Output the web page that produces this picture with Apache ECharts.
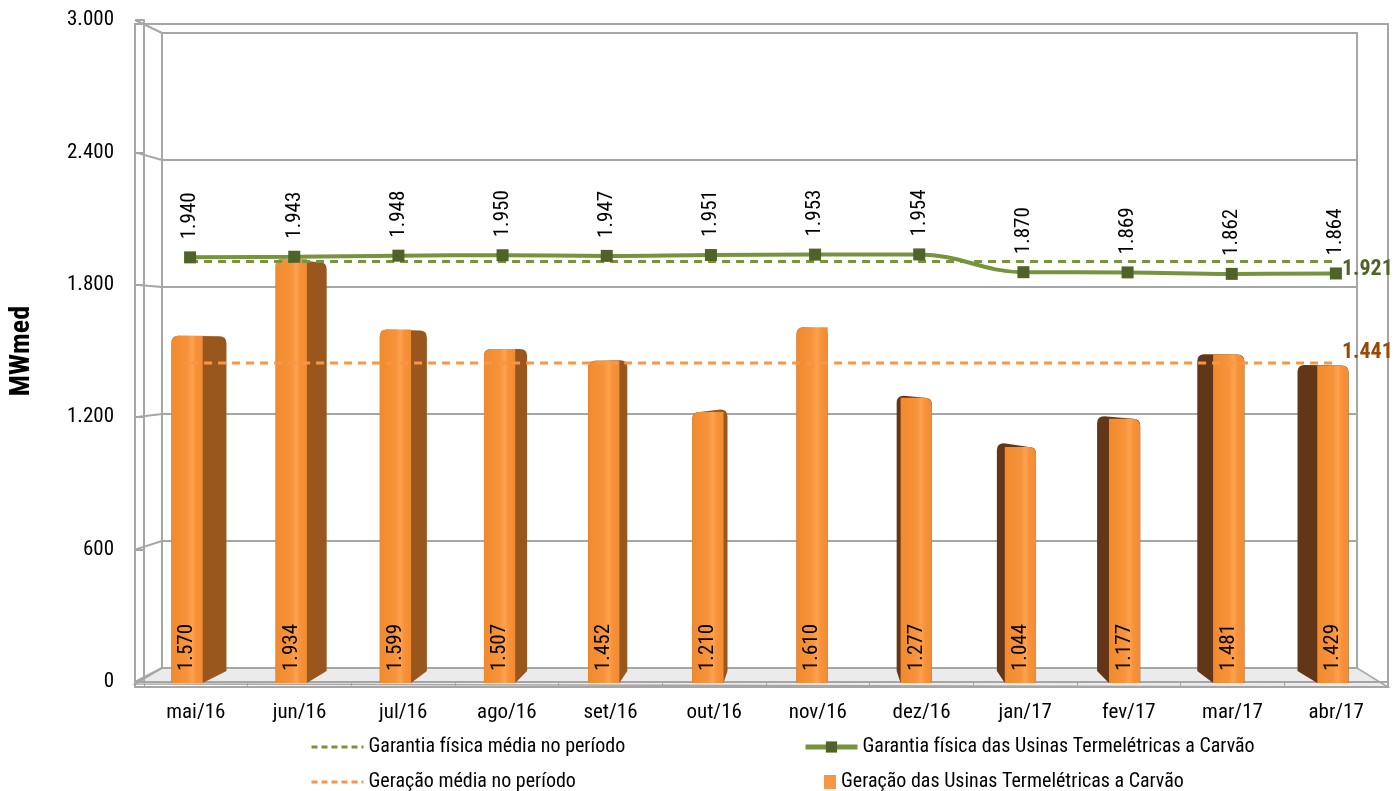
<!DOCTYPE html>
<html>
<head>
<meta charset="utf-8">
<script src="https://cdn.jsdelivr.net/npm/echarts@6/dist/echarts.min.js"></script>
<style>
  html, body { margin: 0; padding: 0; background: #ffffff; }
  #chart { width: 1400px; height: 791px; }
</style>
</head>
<body>
<div id="chart"></div>
<script>
// Categorias (meses) e valores em MWmed
const meses = ['mai/16', 'jun/16', 'jul/16', 'ago/16', 'set/16', 'out/16',
               'nov/16', 'dez/16', 'jan/17', 'fev/17', 'mar/17', 'abr/17'];
const garantiaFisica = [1940, 1943, 1948, 1950, 1947, 1951, 1953, 1954, 1870, 1869, 1862, 1864];
const geracao = [1570, 1934, 1599, 1507, 1452, 1210, 1610, 1277, 1044, 1177, 1481, 1429];
const garantiaMedia = 1921;
const geracaoMedia = 1441;
const eixoTicks = [0, 600, 1200, 1800, 2400, 3000];

const W = 1400, H = 791;
const FONT = "'Liberation Sans Narrow', 'Arial Narrow', 'Roboto Condensed', sans-serif";
const GRAY = '#A6A6A6';

// Layout da caixa 3D: face frontal, parede do fundo e moldura externa
const FRONT = { left: 135, right: 12, top: 20, bottom: 109 };
const BACK  = { left: 162, right: 43, top: 33, bottom: 123 };
const FRAME = { left: 135, right: 12, top: 24, bottom: 104 };
const LINES = { left: 138, right: 12, top: 33, bottom: 123 };
const BARS  = { left: 135, right: 15, top: 33, bottom: 123 };

// Projeção simples das barras: profundidade lateral e degrau do piso
const DEPTH_RATIO = 0.038;
const FLOOR_DROP = 15;
const BACK_RISE = 12;
const CAP_R = 7;

const yMin = eixoTicks[0];
const yMax = eixoTicks[eixoTicks.length - 1];
const yStep = eixoTicks[1] - eixoTicks[0];

function fmt(v) {
  return String(Math.round(v)).replace(/\B(?=(\d{3})+(?!\d))/g, '.');
}

function valueAxis(gridIndex, extra) {
  return Object.assign({
    type: 'value', gridIndex: gridIndex, min: yMin, max: yMax, interval: yStep,
    axisLine: { show: false }, axisTick: { show: false },
    axisLabel: { show: false }, splitLine: { show: false }
  }, extra || {});
}
function catAxis(gridIndex, extra) {
  return Object.assign({
    type: 'category', gridIndex: gridIndex, data: meses,
    axisLine: { show: false }, axisTick: { show: false },
    axisLabel: { show: false }, splitLine: { show: false }
  }, extra || {});
}

// Barra com face frontal, lateral em perspectiva e topo arredondado
function renderBar(params, api) {
  const i = api.value(0);
  const v = api.value(1);
  const topPt = api.coord([i, v]);
  const basePt = api.coord([i, 0]);
  const mid = api.coord([(meses.length - 1) / 2, 0])[0];
  const horizon = api.coord([i, yMax / 2])[1];
  const w = api.size([1, 0])[0] * 0.3;
  const xc = topPt[0];
  const xl = xc - w / 2, xr = xc + w / 2;
  const yt = topPt[1];
  const yb = basePt[1] + FLOOR_DROP;
  const side = (mid - xc) * DEPTH_RATIO;
  const ytBack = yt + (horizon - yt) * 0.04;
  const r = CAP_R;
  let path, frontR, sideColor;
  if (side >= 0) {
    const back = xr + side;
    path = 'M' + xl + ' ' + yb + ' L' + xl + ' ' + (yt + r) + ' Q' + xl + ' ' + yt + ' ' + (xl + r) + ' ' + yt +
           ' L' + (back - r) + ' ' + ytBack + ' Q' + back + ' ' + ytBack + ' ' + back + ' ' + (ytBack + r) +
           ' L' + back + ' ' + (yb - BACK_RISE) + ' L' + xr + ' ' + yb + ' Z';
    frontR = [r, 0, 0, 0];
    sideColor = '#9A571D';
  } else {
    const back = xl + side;
    path = 'M' + xr + ' ' + yb + ' L' + xr + ' ' + (yt + r) + ' Q' + xr + ' ' + yt + ' ' + (xr - r) + ' ' + yt +
           ' L' + (back + r) + ' ' + ytBack + ' Q' + back + ' ' + ytBack + ' ' + back + ' ' + (ytBack + r) +
           ' L' + back + ' ' + (yb - BACK_RISE) + ' L' + xl + ' ' + yb + ' Z';
    frontR = [0, r, 0, 0];
    sideColor = '#623617';
  }
  return {
    type: 'group',
    children: [
      { type: 'path', shape: { pathData: path }, style: { fill: sideColor } },
      {
        type: 'rect',
        shape: { x: xl, y: yt, width: w, height: yb - yt, r: frontR },
        style: {
          fill: new echarts.graphic.LinearGradient(0, 0, 1, 0, [
            { offset: 0, color: '#F08A2E' },
            { offset: 0.5, color: '#F7933A' },
            { offset: 0.66, color: '#FDA24F' },
            { offset: 0.78, color: '#F7923A' },
            { offset: 1, color: '#F28C33' }
          ])
        }
      },
      {
        type: 'text',
        x: xc, y: yb - 12, rotation: Math.PI / 2,
        style: {
          text: fmt(v), align: 'left', verticalAlign: 'middle',
          font: '21px ' + FONT, fill: '#000000'
        }
      }
    ]
  };
}

const chart = echarts.init(document.getElementById('chart'), null, { renderer: 'canvas' });

const legendText = { fontFamily: FONT, fontSize: 20, color: '#000000', lineHeight: 20 };

const option = {
  animation: false,
  backgroundColor: '#ffffff',
  grid: [
    Object.assign({ show: false }, FRONT),
    Object.assign({ show: true, borderColor: GRAY, borderWidth: 2, backgroundColor: 'transparent' }, BACK),
    Object.assign({ show: false }, LINES),
    Object.assign({ show: true, borderColor: GRAY, borderWidth: 2, backgroundColor: 'transparent' }, FRAME),
    Object.assign({ show: false }, BARS)
  ],
  xAxis: [
    catAxis(0, {
      axisLine: { show: true, lineStyle: { color: GRAY, width: 2 } },
      axisTick: { show: true, length: 5, lineStyle: { color: GRAY, width: 1 } },
      axisLabel: { show: true, margin: 20, fontFamily: FONT, fontSize: 21, color: '#000000' }
    }),
    catAxis(1),
    catAxis(2),
    catAxis(3),
    catAxis(4)
  ],
  yAxis: [
    valueAxis(0, {
      axisLine: { show: true, lineStyle: { color: GRAY, width: 2 } },
      axisTick: { show: true, length: 8, lineStyle: { color: GRAY, width: 2 } },
      axisLabel: { show: true, margin: 30, fontFamily: FONT, fontSize: 21, color: '#000000', formatter: fmt },
      name: 'MWmed', nameLocation: 'middle', nameGap: 108, nameRotate: 90,
      nameTextStyle: { fontFamily: FONT, fontSize: 28, fontWeight: 'bold', color: '#000000' }
    }),
    valueAxis(1, { splitLine: { show: true, lineStyle: { color: GRAY, width: 2 } } }),
    valueAxis(2),
    valueAxis(3),
    valueAxis(4)
  ],
  legend: [
    {
      data: ['Garantia física média no período'], left: 310, top: 737, padding: 0,
      itemWidth: 52, itemHeight: 14, selectedMode: false, textStyle: legendText,
      itemStyle: { opacity: 0 }, lineStyle: { width: 3, type: [6, 4] }
    },
    {
      data: ['Garantia física das Usinas Termelétricas a Carvão'], left: 803, top: 737, padding: 0,
      itemWidth: 52, itemHeight: 14, selectedMode: false, textStyle: legendText,
      lineStyle: { width: 5 }
    },
    {
      data: ['Geração média no período'], left: 310, top: 772, padding: 0,
      itemWidth: 52, itemHeight: 14, selectedMode: false, textStyle: legendText,
      itemStyle: { opacity: 0 }, lineStyle: { width: 3, type: [6, 4] }
    },
    {
      data: [{ name: 'Geração das Usinas Termelétricas a Carvão', icon: 'rect' }], left: 824, top: 772, padding: 0,
      itemWidth: 12, itemHeight: 14, selectedMode: false, textStyle: legendText
    }
  ],
  series: [
    {
      name: 'Geração das Usinas Termelétricas a Carvão',
      type: 'custom',
      xAxisIndex: 4, yAxisIndex: 4,
      renderItem: renderBar,
      itemStyle: { color: '#F79646' },
      data: geracao.map(function (v, i) { return [i, v]; }),
      z: 2
    },
    {
      name: 'Garantia física das Usinas Termelétricas a Carvão',
      type: 'line',
      xAxisIndex: 2, yAxisIndex: 2,
      data: garantiaFisica,
      smooth: 0.4,
      symbol: 'rect', symbolSize: 12,
      lineStyle: { color: '#77933C', width: 4 },
      itemStyle: { color: '#4F6228' },
      label: {
        show: true, position: 'top', rotate: 90, align: 'left', verticalAlign: 'middle',
        distance: 12, fontFamily: FONT, fontSize: 21, color: '#000000',
        formatter: function (p) { return fmt(p.value); }
      },
      z: 5
    },
    {
      name: 'Garantia física média no período',
      type: 'line',
      xAxisIndex: 2, yAxisIndex: 2,
      data: meses.map(function () { return garantiaMedia; }),
      symbol: 'none',
      lineStyle: { color: '#77933C', width: 3, type: [8, 6] },
      itemStyle: { color: '#77933C' },
      endLabel: {
        show: true, distance: 6, offset: [0, 8],
        fontFamily: FONT, fontSize: 22, fontWeight: 'bold', color: '#4F6228',
        formatter: function (p) { return fmt(p.value); }
      },
      z: 4
    },
    {
      name: 'Geração média no período',
      type: 'line',
      xAxisIndex: 2, yAxisIndex: 2,
      data: meses.map(function () { return geracaoMedia; }),
      symbol: 'none',
      lineStyle: { color: '#F79646', width: 3, type: [8, 6] },
      itemStyle: { color: '#F79646' },
      endLabel: {
        show: true, distance: 6, offset: [0, -10],
        fontFamily: FONT, fontSize: 22, fontWeight: 'bold', color: '#984807',
        formatter: function (p) { return fmt(p.value); }
      },
      z: 4
    }
  ]
};

chart.setOption(option);

// Piso e ligações entre as marcas do eixo frontal e as linhas da parede do fundo
function drawFrame() {
  const elems = [];
  const yFront0 = chart.convertToPixel({ yAxisIndex: 0 }, yMin);
  const yBack0 = chart.convertToPixel({ yAxisIndex: 1 }, yMin);
  elems.push({
    type: 'polygon', z: -1,
    shape: {
      points: [
        [BACK.left, yBack0], [W - BACK.right, yBack0],
        [W - FRAME.right, H - FRAME.bottom], [FRONT.left, yFront0 + 2]
      ]
    },
    style: { fill: '#EBEBEB', stroke: GRAY, lineWidth: 1.5 }
  });
  eixoTicks.forEach(function (t) {
    elems.push({
      type: 'line', z: -1,
      shape: {
        x1: FRONT.left, y1: chart.convertToPixel({ yAxisIndex: 0 }, t),
        x2: BACK.left, y2: chart.convertToPixel({ yAxisIndex: 1 }, t)
      },
      style: { stroke: GRAY, lineWidth: 2 }
    });
  });
  chart.setOption({ graphic: elems });
}
drawFrame();
</script>
</body>
</html>
